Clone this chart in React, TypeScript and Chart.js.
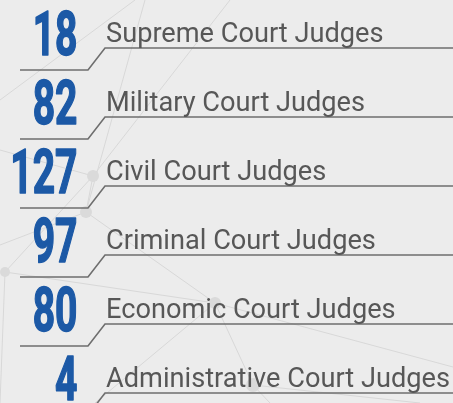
import React, { useEffect, useRef } from "react";
import { Chart, registerables } from "chart.js";

Chart.register(...registerables);

const categories = [
  "Supreme Court Judges",
  "Military Court Judges",
  "Civil Court Judges",
  "Criminal Court Judges",
  "Economic Court Judges",
  "Administrative Court Judges",
];
const judgeCounts = [18, 82, 127, 97, 80, 4];

const BG = "#ececec";
const BLUE = "#1c59a6";
const GREY_TEXT = "#575757";
const GREY_LINE = "#6e6e6e";

// faint decorative network in the background (pixels)
const netLines: [number, number, number, number][] = [
  [0, 100, 135, 0],
  [145, 0, 86, 212],
  [0, 150, 93, 176],
  [93, 176, 86, 212],
  [86, 212, 215, 303],
  [86, 212, 0, 245],
  [5, 272, 93, 176],
  [5, 272, 215, 303],
  [5, 272, 0, 403],
  [215, 303, 253, 385],
  [215, 303, 95, 403],
  [215, 303, 453, 367],
  [253, 385, 270, 403],
  [253, 385, 420, 403],
  [93, 176, 230, 0],
];
const netDots: [number, number, number][] = [
  [93, 176, 6],
  [86, 212, 6],
  [5, 272, 5],
  [215, 303, 6],
  [253, 385, 7],
];

const backgroundPlugin = {
  id: "bgNetwork",
  beforeDraw(chart: any) {
    const { ctx, width, height } = chart;
    ctx.save();
    ctx.fillStyle = BG;
    ctx.fillRect(0, 0, width, height);
    ctx.strokeStyle = "#d8d8d8";
    ctx.lineWidth = 1;
    netLines.forEach(([x1, y1, x2, y2]) => {
      ctx.beginPath();
      ctx.moveTo(x1, y1);
      ctx.lineTo(x2, y2);
      ctx.stroke();
    });
    ctx.fillStyle = "#dadada";
    netDots.forEach(([x, y, r]) => {
      ctx.beginPath();
      ctx.arc(x, y, r, 0, Math.PI * 2);
      ctx.fill();
    });
    ctx.restore();
  },
};

const rowsPlugin = {
  id: "rows",
  afterDatasetsDraw(chart: any) {
    const { ctx, width } = chart;
    const yScale = chart.scales.y;
    const labels = chart.data.labels as string[];
    const values = chart.data.datasets[0].data as number[];
    labels.forEach((label, i) => {
      const c = yScale.getPixelForValue(i);
      // bracket line
      ctx.save();
      ctx.strokeStyle = GREY_LINE;
      ctx.lineWidth = 1.6;
      ctx.beginPath();
      ctx.moveTo(width, c + 13.5);
      ctx.lineTo(105, c + 13.5);
      ctx.lineTo(88, c + 35.5);
      ctx.lineTo(20, c + 35.5);
      ctx.stroke();
      ctx.restore();

      // number (condensed bold)
      ctx.save();
      ctx.fillStyle = BLUE;
      ctx.strokeStyle = BLUE;
      ctx.lineWidth = 1.6;
      ctx.lineJoin = "round";
      ctx.font = "bold 61px Roboto";
      ctx.textAlign = "right";
      ctx.textBaseline = "alphabetic";
      ctx.translate(77.5, c + 20.5);
      ctx.scale(0.64, 1);
      ctx.fillText(String(values[i]), 0, 0);
      ctx.strokeText(String(values[i]), 0, 0);
      ctx.restore();

      // label
      ctx.save();
      ctx.fillStyle = GREY_TEXT;
      ctx.font = "27.2px Roboto";
      ctx.textAlign = "left";
      ctx.textBaseline = "alphabetic";
      ctx.fillText(label, 106, c + 7.5);
      ctx.restore();
    });
  },
};

export default function App() {
  const ref = useRef<HTMLCanvasElement | null>(null);
  useEffect(() => {
    document.body.style.margin = "0";
    const canvas = ref.current;
    if (!canvas) return;
    const chart = new Chart(canvas, {
      type: "bar",
      data: {
        labels: categories,
        datasets: [
          {
            data: judgeCounts,
            backgroundColor: "rgba(0,0,0,0)",
            borderWidth: 0,
          },
        ],
      },
      options: {
        indexAxis: "y",
        animation: false,
        responsive: false,
        maintainAspectRatio: false,
        layout: { padding: 0 },
        plugins: {
          legend: { display: false },
          tooltip: { enabled: false },
          title: { display: false },
        },
        scales: {
          x: { display: false, min: 0, max: 140 },
          y: { display: false },
        },
      },
      plugins: [backgroundPlugin, rowsPlugin],
    });
    return () => chart.destroy();
  }, []);
  return (
    <div style={{ width: 453, height: 403, overflow: "hidden", background: BG }}>
      <canvas ref={ref} width={453} height={414} style={{ display: "block" }} />
    </div>
  );
}
